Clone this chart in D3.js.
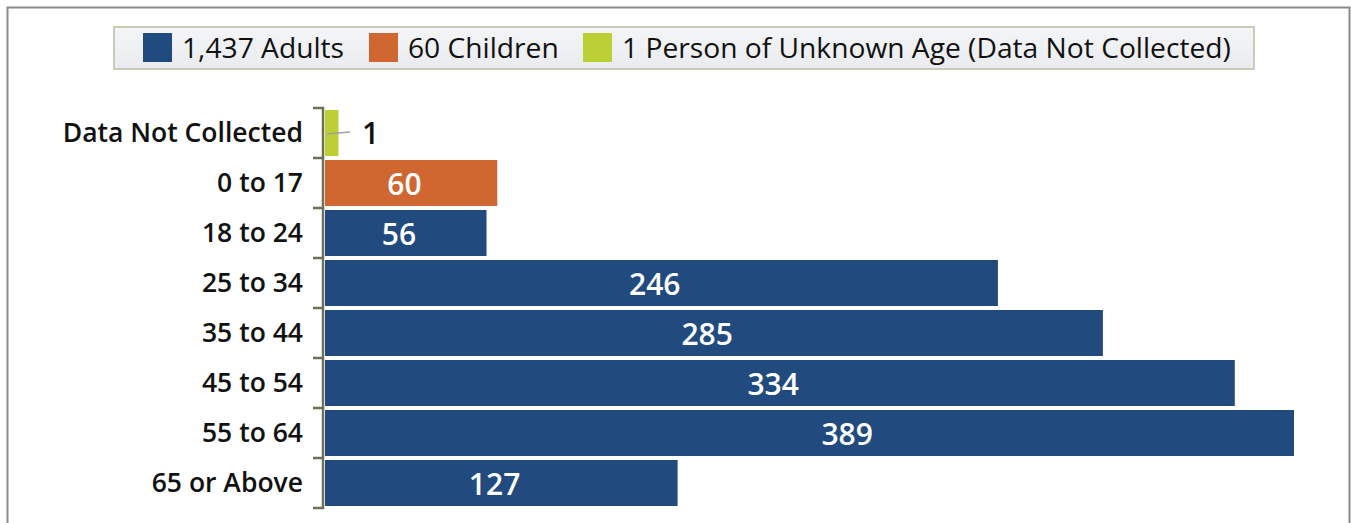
<!DOCTYPE html>
<html>
<head>
<meta charset="utf-8">
<script src="https://cdn.jsdelivr.net/npm/d3@7"></script>
<style>
  body { margin: 0; background: #fff; }
  svg { display: block; font-family: "Open Sans", "Noto Sans", sans-serif; }
</style>
</head>
<body>
<div id="main"></div>
<script>
"use strict";

// data
var categories = ["Data Not Collected", "0 to 17", "18 to 24", "25 to 34", "35 to 44", "45 to 54", "55 to 64", "65 or Above"];
var values = [1, 60, 56, 246, 285, 334, 389, 127];
var groups = ["unknown", "children", "adults", "adults", "adults", "adults", "adults", "adults"];
var legendLabels = ["1,437 Adults", "60 Children", "1 Person of Unknown Age (Data Not Collected)"];
var legendKeys = ["adults", "children", "unknown"];

var colors = { adults: "#214a7e", children: "#d06630", unknown: "#bcd035" };

var width = 1351, height = 523;
var svg = d3.select("#main").append("svg").attr("width", width).attr("height", height);

// outer frame
svg.append("path")
    .attr("d", "M7.5,523V7.5H1349.5V523")
    .attr("fill", "none").attr("stroke", "#8a8a8a").attr("stroke-width", 2);

// legend
var lg = svg.append("g");
var grad = svg.append("defs").append("linearGradient").attr("id", "lgbg").attr("x1", 0).attr("y1", 0).attr("x2", 0).attr("y2", 1);
grad.append("stop").attr("offset", "0%").attr("stop-color", "#f4f5f7");
grad.append("stop").attr("offset", "100%").attr("stop-color", "#e9ebee");
lg.append("rect").attr("x", 114).attr("y", 27).attr("width", 1140).attr("height", 42)
    .attr("fill", "url(#lgbg)").attr("stroke", "#c9cbb6").attr("stroke-width", 2);
var legendX = [143, 369, 583];
legendKeys.forEach(function(k, i){
    lg.append("rect").attr("x", legendX[i]).attr("y", 33).attr("width", 29).attr("height", 29).attr("fill", colors[k]);
    lg.append("text").attr("x", legendX[i] + 39).attr("y", 48).attr("dy", "0.35em")
        .attr("font-size", 28.2).attr("fill", "#111").text(legendLabels[i]);
});

// scales (bars clipped at the right edge, labels use the unclipped scale)
var x = d3.scaleLinear().domain([-4, 356]).range([325, 1294]).clamp(true);
var xRaw = x.copy().clamp(false);
var y = d3.scaleBand().domain(categories).range([108, 508]).paddingInner(0.08).paddingOuter(0.04);

// axis
var axis = svg.append("g").attr("transform", "translate(323,0)")
    .call(d3.axisLeft(y).tickSize(0).tickFormat(""));
axis.select(".domain").attr("stroke", "#6f6f57").attr("stroke-width", 2.5).attr("d", "M0,107V509");
var bounds = d3.range(categories.length + 1).map(function(i){ return 108 + i * y.step(); });
svg.append("g").selectAll("line").data(bounds).join("line")
    .attr("x1", 313).attr("x2", 324).attr("y1", function(d){ return d; }).attr("y2", function(d){ return d; })
    .attr("stroke", "#6f6f57").attr("stroke-width", 2.5);

svg.append("g").selectAll("text").data(categories).join("text")
    .attr("x", 303).attr("y", function(d){ return y(d) + y.bandwidth() / 2; })
    .attr("dy", "0.35em").attr("text-anchor", "end")
    .attr("font-size", 26.5).attr("font-weight", 600).attr("fill", "#111")
    .text(function(d){ return d; });

// bars
svg.append("g").selectAll("rect").data(values).join("rect")
    .attr("x", x(-4))
    .attr("y", function(d, i){ return y(categories[i]); })
    .attr("width", function(d){ return x(d) - x(-4); })
    .attr("height", y.bandwidth())
    .attr("fill", function(d, i){ return colors[groups[i]]; });

// value labels
svg.append("g").selectAll("text").data(values).join("text")
    .filter(function(d){ return d > 10; })
    .attr("x", function(d){ return (xRaw(-9) + xRaw(d)) / 2; })
    .attr("y", function(d){ return y(categories[values.indexOf(d)]) + y.bandwidth() / 2 + 1; })
    .attr("dy", "0.35em").attr("text-anchor", "middle")
    .attr("font-size", 30).attr("font-weight", 600).attr("fill", "#fff")
    .text(function(d){ return d; });

// small value label with leader line
var smallY = y(categories[0]) + y.bandwidth() / 2;
svg.append("line").attr("x1", 327).attr("x2", 350).attr("y1", smallY + 1).attr("y2", smallY - 1)
    .attr("stroke", "#a0a0a0").attr("stroke-width", 1.5);
svg.append("text").attr("x", 362).attr("y", smallY).attr("dy", "0.35em")
    .attr("font-size", 30).attr("font-weight", 600).attr("fill", "#111").text(values[0]);
</script>
</body>
</html>
